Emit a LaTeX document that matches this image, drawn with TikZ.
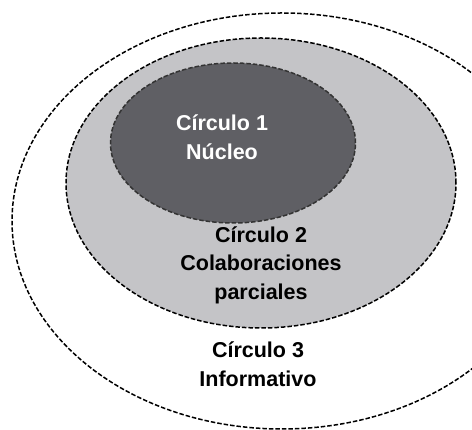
\documentclass[tikz,border=0pt]{standalone}
\usepackage{fontspec}
\setmainfont{Liberation Sans}
\usetikzlibrary{shapes.geometric}
\definecolor{darkfill}{HTML}{5F5F64}
\definecolor{lightfill}{HTML}{C4C4C7}
\tikzset{
  ring/.style={draw=black, line width=1.5pt, dash pattern=on 4.5pt off 2pt, ellipse, inner sep=0pt},
  lbl/.style={align=center, font=\fontsize{21.5}{28.5}\selectfont\bfseries}
}
\begin{document}
\begin{tikzpicture}[x=1pt,y=1pt]
\useasboundingbox (0,0) rectangle (472,430);
\clip (0,0) rectangle (472,430);
\node[ring, fill=white, minimum width=540pt, minimum height=416pt] (c3) at (282,209) {};
\node[ring, fill=lightfill, minimum width=390pt, minimum height=290pt] (c2) at (261,247) {};
\node[ring, fill=darkfill, draw=black!80, minimum width=245pt, minimum height=160pt] (c1) at (233,287) {};
\node[lbl, text=white] (t1) at (222,293) {Círculo 1\\Núcleo};
\node[lbl, text=black] (t2) at (261,165) {Círculo 2\\Colaboraciones\\parciales};
\node[lbl, text=black] (t3) at (258,66) {Círculo 3\\Informativo};
\end{tikzpicture}
\end{document}
